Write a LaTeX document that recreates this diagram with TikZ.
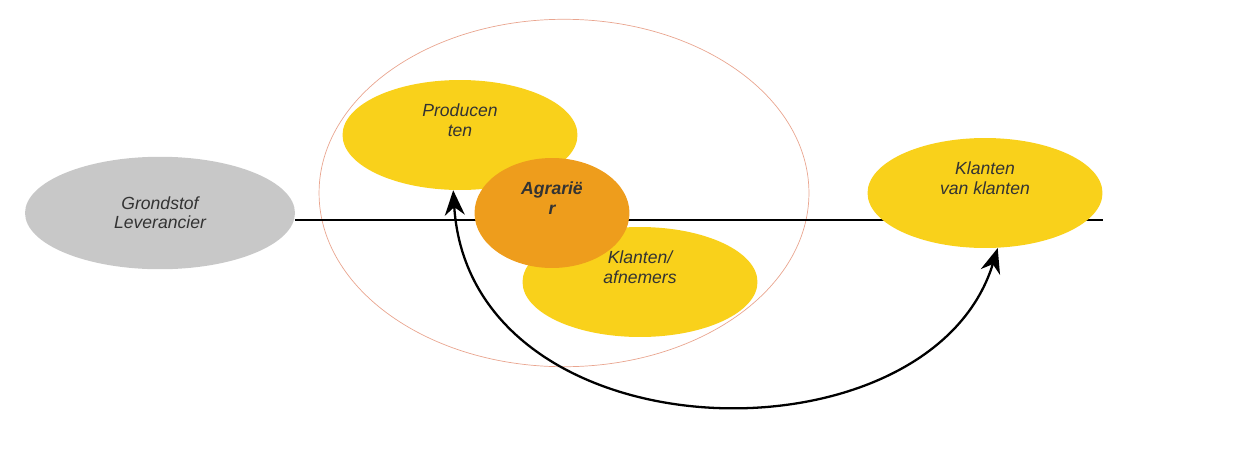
\documentclass[tikz,border=0pt]{standalone}
\usepackage{fontspec}
\setmainfont{Liberation Sans}
\usetikzlibrary{shapes.geometric,arrows.meta}
\definecolor{geel}{HTML}{F9D11B}
\definecolor{oranje}{HTML}{EE9D1C}
\definecolor{grijs}{HTML}{C8C8C8}
\definecolor{rand}{HTML}{E9A58F}
\begin{document}
\begin{tikzpicture}[x=0.02cm, y=-0.02cm,
    schakel/.style={ellipse, fill=geel, minimum width=4.7cm, minimum height=2.2cm, inner sep=0pt, align=center, font=\fontsize{10}{11}\selectfont\itshape, text=black!80},
    >={Stealth[length=5mm, width=4mm]}]
    \useasboundingbox (0,0) rectangle (1243,450);

    % Keten
    \node[ellipse, draw=rand, minimum width=9.8cm, minimum height=6.95cm] (keten) at (564,193) {};
    \coordinate (eind) at (1103,220);
    \draw[thick] (295,220) -- (eind);

    % Schakels
    \node[schakel, fill=grijs, minimum width=5.4cm, minimum height=2.25cm] (grond) at (160,213) {Grondstof\\Leverancier};
    \node[schakel] (prod) at (460,135) {Producen\\ten\\[6pt]};
    \node[schakel] (afn) at (640,282) {Klanten/\\afnemers\\[6pt]};
    \node[schakel, fill=oranje, minimum width=3.1cm, minimum height=2.2cm, font=\fontsize{10}{11}\selectfont\bfseries\itshape] (agr) at (552,213) {Agrarië\\r\\[6pt]};
    \node[schakel] (kvk) at (985,193) {Klanten\\van klanten\\[6pt]};

    % Terugkoppeling
    \draw[<->, line width=1.3pt] (prod.263) .. controls (470,460) and (930,470) .. (kvk.283);
\end{tikzpicture}
\end{document}
